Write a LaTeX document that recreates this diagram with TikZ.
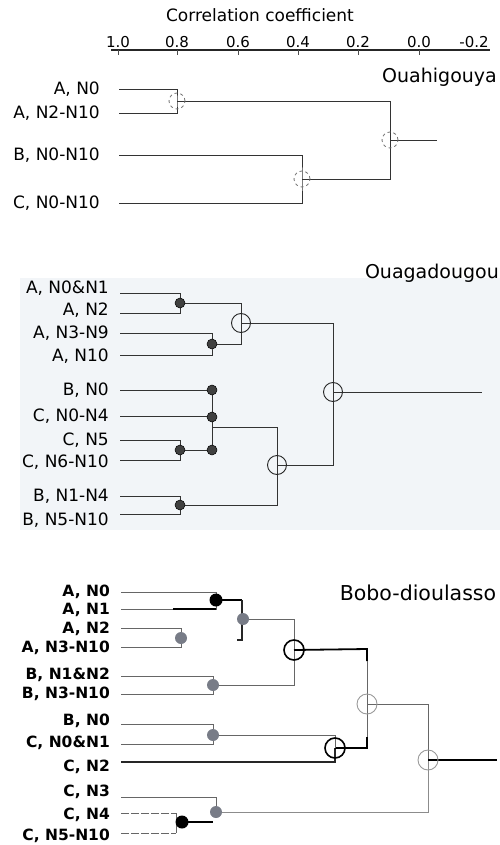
\documentclass[tikz,border=0pt]{standalone}
\usepackage{fontspec}
\setmainfont{DejaVu Sans}
\definecolor{bgtint}{RGB}{242,245,248}
\definecolor{dotgrey}{RGB}{120,124,135}
\begin{document}
\begin{tikzpicture}[x=1pt,y=-1pt,
  labA/.style={anchor=east,inner sep=0pt,font=\fontsize{17}{19}\selectfont},
  labB/.style={anchor=east,inner sep=0pt,font=\fontsize{17}{19}\selectfont},
  labC/.style={anchor=east,inner sep=0pt,font=\fontsize{15.5}{17}\selectfont\bfseries},
  ticklab/.style={inner sep=0pt,font=\fontsize{15}{17}\selectfont},
  axisline/.style={draw=black!85,line width=1.1pt},
  lnA/.style={draw=black!80,line width=0.9pt},
  lnB/.style={draw=black!80,line width=0.9pt},
  lnC/.style={draw=black!60,line width=0.9pt},
  thickln/.style={draw=black,line width=1.8pt},
  dcirc/.style={circle,draw=black!55,dashed,line width=0.8pt,minimum size=16pt,inner sep=0pt},
  ocirc/.style={circle,draw=black!85,line width=0.9pt,minimum size=19pt,inner sep=0pt},
  ddot/.style={circle,fill=black!75,draw=black,line width=0.5pt,minimum size=10pt,inner sep=0pt},
  gdot/.style={circle,fill=dotgrey,minimum size=12pt,inner sep=0pt},
  bdot/.style={circle,fill=black,minimum size=13pt,inner sep=0pt},
  bcirc/.style={circle,draw=black,line width=1.6pt,minimum size=20pt,inner sep=0pt},
  lcirc/.style={circle,draw=black!40,line width=0.9pt,minimum size=20pt,inner sep=0pt}
]
\useasboundingbox (0,0) rectangle (500,845);
\fill[bgtint] (20,278) rectangle (500,530);

% ---------------- axis ----------------
\node[inner sep=0pt,font=\fontsize{17}{19}\selectfont] (title) at (260,15) {Correlation coefficient};
\coordinate (axL) at (111,50);
\coordinate (axR) at (490,50);
\draw[axisline] (axL) -- (axR);
\foreach \xx/\tt [count=\i] in {118/1.0,177/0.8,238/0.6,298/0.4,358/0.2,419/0.0}{
  \coordinate (tk\i) at (\xx,50);
  \draw[draw=black!70,line width=0.8pt] (tk\i) -- ++(0,5);
  \node[ticklab] (tl\i) at (\xx,42) {\tt};
}
\node[ticklab] (tl7) at (474,42) {-0.2};

% ---------------- Ouahigouya ----------------
\node[anchor=east,inner sep=0pt,font=\fontsize{19}{21}\selectfont] (ouah) at (497,77) {Ouahigouya};
\node[labA] (oa1) at (100,89) {A, N0};
\node[labA] (oa2) at (100,113) {A, N2-N10};
\node[labA] (oa3) at (100,155) {B, N0-N10};
\node[labA] (oa4) at (100,203) {C, N0-N10};
\coordinate (o1s) at (119,89);
\coordinate (o2s) at (119,113);
\coordinate (o3s) at (119,155);
\coordinate (o4s) at (119,203);
\coordinate (oj1) at (177,101);
\coordinate (oj2) at (302,179);
\coordinate (oj3) at (390,140);
\coordinate (oout) at (437,140);
\draw[lnA] (o1s) -| (oj1) |- (o2s);
\draw[lnA] (o3s) -| (oj2) |- (o4s);
\draw[lnA] (oj1) -| (oj3);
\draw[lnA] (oj2) -| (oj3);
\draw[lnA] (oj3) -- (oout);
\node[dcirc] (oc1) at (oj1) {};
\node[dcirc] (oc2) at (oj2) {};
\node[dcirc] (oc3) at (oj3) {};

% ---------------- Ouagadougou ----------------
\node[anchor=east,inner sep=0pt,font=\fontsize{19}{21}\selectfont] (ouag) at (499,273) {Ouagadougou};
\node[labB] (ga1) at (109,288) {A, N0\&N1};
\node[labB] (ga2) at (109,310) {A, N2};
\node[labB] (ga3) at (109,333) {A, N3-N9};
\node[labB] (ga4) at (109,356) {A, N10};
\node[labB] (ga5) at (109,390) {B, N0};
\node[labB] (ga6) at (109,416) {C, N0-N4};
\node[labB] (ga7) at (109,440) {C, N5};
\node[labB] (ga8) at (109,462) {C, N6-N10};
\node[labB] (ga9) at (109,496) {B, N1-N4};
\node[labB] (ga10) at (109,520) {B, N5-N10};
\foreach \yy [count=\i] in {293,313,333,355,390,416,440,460,496,514}{
  \coordinate (g\i s) at (120,\yy);
}
\coordinate (gj1) at (180,303);
\coordinate (gj2) at (212,344);
\coordinate (gj3) at (241,323);
\coordinate (gj4) at (333,392);
\coordinate (gout) at (482,392);
\coordinate (gd5) at (212,390);
\coordinate (gd6) at (212,417);
\coordinate (gd7) at (180,450);
\coordinate (gd8) at (212,450);
\coordinate (gx1) at (212,427);
\coordinate (gj5) at (277,465);
\coordinate (gj6) at (180,505);
\draw[lnB] (g1s) -| (gj1) |- (g2s);
\draw[lnB] (g3s) -| (gj2) |- (g4s);
\draw[lnB] (gj1) -| (gj3);
\draw[lnB] (gj2) -| (gj3);
\draw[lnB] (gj3) -| (gj4);
\draw[lnB] (gj4) -- (gout);
\draw[lnB] (g5s) -- (gd5);
\draw[lnB] (g6s) -| (gd6);
\draw[lnB] (g7s) -| (gd7) |- (g8s);
\draw[lnB] (gd5) -- (gd8);
\draw[lnB] (gd7) -- (gd8);
\draw[lnB] (gx1) -| (gj5);
\draw[lnB] (g9s) -| (gj6) |- (g10s);
\draw[lnB] (gj6) -| (gj5);
\draw[lnB] (gj5) -| (gj4);
\node[ddot] (gdot1) at (gj1) {};
\node[ddot] (gdot2) at (gj2) {};
\node[ddot] (gdot5) at (gd5) {};
\node[ddot] (gdot6) at (gd6) {};
\node[ddot] (gdot7) at (gd7) {};
\node[ddot] (gdot8) at (gd8) {};
\node[ddot] (gdot9) at (gj6) {};
\node[ocirc] (gc3) at (gj3) {};
\node[ocirc] (gc4) at (gj4) {};
\node[ocirc] (gc5) at (gj5) {};

% ---------------- Bobo-dioulasso ----------------
\node[inner sep=0pt,font=\fontsize{20.5}{22}\selectfont] (bobo) at (418,593) {Bobo-dioulasso};
\node[labC] (ba1) at (110,592) {A, N0};
\node[labC] (ba2) at (110,610) {A, N1};
\node[labC] (ba3) at (110,629) {A, N2};
\node[labC] (ba4) at (110,648) {A, N3-N10};
\node[labC] (ba5) at (110,675) {B, N1\&N2};
\node[labC] (ba6) at (110,694) {B, N3-N10};
\node[labC] (ba7) at (110,721) {B, N0};
\node[labC] (ba8) at (110,743) {C, N0\&N1};
\node[labC] (ba9) at (110,767) {C, N2};
\node[labC] (ba10) at (110,792) {C, N3};
\node[labC] (ba11) at (110,815) {C, N4};
\node[labC] (ba12) at (110,836) {C, N5-N10};
\foreach \yy [count=\i] in {592,609,628,647,676,694,724,744,762,797,813,833}{
  \coordinate (b\i s) at (121,\yy);
}
\coordinate (bj1) at (216,600);
\coordinate (bk1) at (242,600);
\coordinate (bk2) at (242,640);
\coordinate (bk3) at (237,640);
\coordinate (bj2) at (243,619);
\coordinate (bj3) at (181,638);
\coordinate (bj4) at (213,685);
\coordinate (bj5) at (294,650);
\coordinate (bt1) at (367,649);
\coordinate (bt2) at (367,661);
\coordinate (bt3) at (367,737);
\coordinate (bj6) at (367,704);
\coordinate (bj7) at (213,735);
\coordinate (bj8) at (335,748);
\coordinate (bj9) at (216,812);
\coordinate (bj10) at (182,822);
\coordinate (bk4) at (213,822);
\coordinate (bj11) at (428,760);
\coordinate (bout) at (497,760);
% leaves
\draw[lnC] (b1s) -| (bj1) |- (b2s);
\draw[thickln,line width=1.5pt] (173,609) -- (b2s -| bj1);
\draw[lnC] (b3s) -| (bj3) |- (b4s);
\draw[lnC] (b5s) -| (bj4) |- (b6s);
\draw[lnC] (b7s) -| (bj7) |- (b8s);
\draw[thickln,line width=1.4pt,draw=black!85] (b9s) -| (bj8);
\draw[lnC] (b10s) -| (bj9);
\draw[lnC,dash pattern=on 8pt off 2pt] (b11s) -- (176,813);
\draw[lnC,dash pattern=on 8pt off 2pt] (b12s) -- (176,833);
\draw[lnC] (176,813) -- (176,833);
% internal
\draw[thickln,line width=1.5pt] (bj1) -- (bk1);
\draw[draw=black!85,line width=1.1pt] (bk1) -- (bk2) -- (bk3);
\draw[lnC] (bj2) -| (bj5);
\draw[lnC] (bj4) -| (bj5);
\draw[thickln] (bj5) -- (bt1) -- (bt2);
\draw[lnC] (bt2) -- (bt3);
\draw[thickln] (bt3) |- (bj8);
\draw[lnC] (bj7) -| (bj8);
\draw[lnC] (bj6) -| (bj11);
\draw[lnC,draw=black!45] (bj9) -| (bj11);
\draw[thickln] (bj10) -- (bk4);
\draw[thickln,line width=1.5pt] (bj11) -- (bout);
% markers
\node[bdot] (bd1) at (bj1) {};
\node[gdot] (bg2) at (bj2) {};
\node[gdot] (bg3) at (bj3) {};
\node[gdot] (bg4) at (bj4) {};
\node[gdot] (bg7) at (bj7) {};
\node[gdot] (bg9) at (bj9) {};
\node[bdot] (bd10) at (bj10) {};
\node[bcirc] (bc5) at (bj5) {};
\node[bcirc] (bc8) at (bj8) {};
\node[lcirc] (bc6) at (bj6) {};
\node[lcirc] (bc11) at (bj11) {};
\end{tikzpicture}
\end{document}
